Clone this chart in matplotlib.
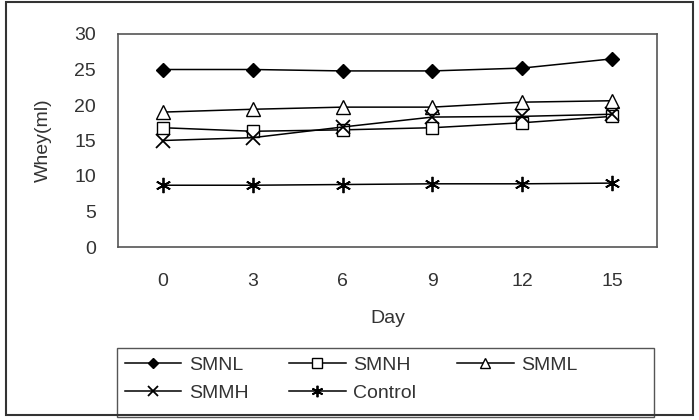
import numpy as np
import matplotlib
matplotlib.use("Agg")
from matplotlib import pyplot as plt
from matplotlib.patches import Rectangle

# 데이터
days = ["0", "3", "6", "9", "12", "15"]
smnl = [25.0, 25.0, 24.8, 24.8, 25.2, 26.5]
smnh = [16.8, 16.3, 16.5, 16.8, 17.5, 18.4]
smml = [19.0, 19.4, 19.7, 19.7, 20.4, 20.6]
smmh = [15.0, 15.4, 16.9, 18.3, 18.4, 18.7]
control = [8.7, 8.7, 8.8, 8.9, 8.9, 9.0]

plt.rcParams['font.family'] = ['Liberation Sans', 'DejaVu Sans']
txt = '#333333'

fig = plt.figure(figsize=(6.99, 4.2), dpi=100)
ax = fig.add_axes([118/699, 1-247/420, (657-118)/699, (247-34)/420])

x = np.arange(len(days))
h1, = ax.plot(x, smnl, color='black', lw=1.1, marker='D', ms=7, mfc='black', label='SMNL')
h2, = ax.plot(x, smnh, color='black', lw=1.1, marker='s', ms=9, mfc='white', label='SMNH')
h3, = ax.plot(x, smml, color='black', lw=1.1, marker='^', ms=10, mfc='white', label='SMML')
h4, = ax.plot(x, smmh, color='black', lw=1.1, marker='x', ms=10, mew=1.3, label='SMMH')
h5, = ax.plot(x, control, color='black', lw=1.1, marker=(6, 2, 0), ms=11, mew=1.3, label='Control')

ax.set_xlim(-0.5, 5.5)
ax.set_ylim(0, 30)
ax.set_yticks(range(0, 31, 5))
ax.set_xticks(x)
ax.set_xticklabels(days)
ax.tick_params(axis='both', length=0, labelsize=14, labelcolor=txt)
ax.tick_params(axis='x', pad=19)
ax.tick_params(axis='y', pad=16)
for s in ax.spines.values():
    s.set_color('#555555')
    s.set_linewidth(1.2)
ax.set_xlabel('Day', fontsize=14, color=txt, labelpad=14)
ax.set_ylabel('Whey(ml)', fontsize=14, color=txt, labelpad=16)

# 범례 (행 순서: SMNL SMNH SMML / SMMH Control)
handles = [h1, h4, h2, h5, h3]
labels = [h.get_label() for h in handles]
leg = fig.legend(handles, labels, loc='upper left', bbox_to_anchor=(109/699, 1-341/420),
                 ncol=3, fontsize=14, frameon=False, handlelength=2.9, markerscale=0.75,
                 handletextpad=0.4, columnspacing=2.1, borderpad=0.3, labelspacing=0.5)
for t in leg.get_texts():
    t.set_color(txt)

# 범례 테두리 (아래쪽은 잘림)
fig.patches.append(Rectangle((117/699, 3/420), (654-117)/699, (420-348-3)/420,
                             transform=fig.transFigure, fill=False,
                             edgecolor='#555555', lw=1.0))

# 바깥 테두리
fig.patches.append(Rectangle((6/699, 5/420), 687/699, 413/420, transform=fig.transFigure,
                             fill=False, edgecolor='#333333', lw=1.5))

fig.savefig('out.png', dpi=100)
